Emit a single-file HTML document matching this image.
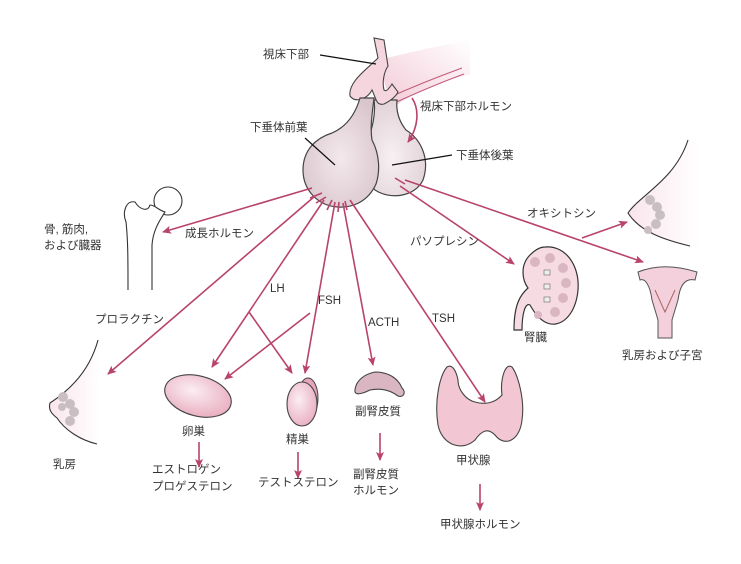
<!DOCTYPE html>
<html><head><meta charset="utf-8"><style>
html,body{margin:0;padding:0;background:#fff;}
svg{display:block;}
text{font-family:"Liberation Sans","Noto Sans CJK JP",sans-serif;font-size:11.5px;fill:#333;}
</style></head><body>
<svg width="741" height="564" viewBox="0 0 741 564" xmlns="http://www.w3.org/2000/svg">
<defs>
<marker id="a" markerWidth="10" markerHeight="10" refX="8" refY="5" orient="auto" markerUnits="userSpaceOnUse"><path d="M0,1 L9,5 L0,9 L2,5 z" fill="#b8436d"/></marker>
<radialGradient id="g1" cx="0.5" cy="0.55" r="0.6"><stop offset="0" stop-color="#f3e8ec"/><stop offset="1" stop-color="#d9c6cd"/></radialGradient>
<radialGradient id="g3" cx="0.45" cy="0.6" r="0.6"><stop offset="0" stop-color="#f7f0f2"/><stop offset="1" stop-color="#e2d3d8"/></radialGradient>
<radialGradient id="g2" cx="0.4" cy="0.4" r="0.7"><stop offset="0" stop-color="#fbeef2"/><stop offset="1" stop-color="#e8a9bd"/></radialGradient>
<linearGradient id="hb" x1="0" y1="1" x2="1" y2="0"><stop offset="0" stop-color="#f2c8d5"/><stop offset="1" stop-color="#fff"/></linearGradient>
<linearGradient id="br" x1="0" y1="0" x2="1" y2="0"><stop offset="0" stop-color="#fae5ec"/><stop offset="1" stop-color="#fff"/></linearGradient>
</defs>

<!-- hypothalamus band -->
<path d="M378,60 C400,55 440,45 470,40 L470,75 C440,80 410,95 392,108 Z" fill="url(#hb)"/>
<path d="M388,98 C410,88 440,76 462,68 M392,104 C414,94 442,82 464,74" fill="none" stroke="#c05a78" stroke-width="1"/>
<!-- posterior lobe (behind) -->
<path d="M374,100 C376,115 372,128 368,140 C362,155 364,178 375,190 C390,200 415,197 423,180 C430,160 422,140 406,130 C398,120 396,110 397,100 Z" fill="url(#g3)" stroke="#444" stroke-width="1.2"/>
<!-- fold -->
<path d="M374,38 L378,58 C366,70 348,82 350,96 C356,104 368,98 372,90 C376,98 376,106 384,104 C392,100 396,96 398,92 L392,84 C388,90 386,92 384,90 C382,82 384,72 388,66 L384,40 Z" fill="#f5d6df" stroke="#444" stroke-width="1.1"/>
<!-- anterior lobe -->
<path d="M374,98 C372,115 370,128 372,140 C380,155 380,172 376,184 C368,202 352,208 338,207 C318,206 303,190 303,170 C303,150 316,138 332,133 C348,126 356,112 360,98 Z" fill="url(#g1)" stroke="#444" stroke-width="1.2"/>

<!-- leader lines -->
<g stroke="#111" stroke-width="1.2">
<line x1="320" y1="55" x2="376" y2="64"/>
<line x1="305" y1="138" x2="335" y2="165"/>
<line x1="452" y1="155" x2="392" y2="165"/>
</g>

<!-- arrows -->
<g stroke="#b8436d" stroke-width="1.6" fill="none" marker-end="url(#a)">
<path d="M412,98 C420,110 418,128 408,142"/>
<line x1="312" y1="188" x2="163" y2="232"/>
<line x1="315" y1="196" x2="108" y2="374"/>
<line x1="324" y1="200" x2="212" y2="367"/>
<line x1="249" y1="312" x2="292" y2="373"/>
<line x1="335" y1="202" x2="305" y2="373"/>
<line x1="310" y1="313" x2="225" y2="379"/>
<line x1="343" y1="203" x2="373" y2="365"/>
<line x1="350" y1="200" x2="485" y2="402"/>
<line x1="400" y1="186" x2="514" y2="264"/>
<line x1="405" y1="180" x2="643" y2="262"/>
<line x1="582" y1="238" x2="627" y2="222"/>
<line x1="199" y1="442" x2="199" y2="467"/>
<line x1="298" y1="452" x2="298" y2="478"/>
<line x1="380" y1="433" x2="380" y2="460"/>
<line x1="480" y1="484" x2="480" y2="510"/>
</g>
<g stroke="#b8436d" stroke-width="1.6">
<line x1="310" y1="198" x2="322" y2="193"/><line x1="316" y1="203" x2="326" y2="197"/>
<line x1="327" y1="210" x2="332" y2="200"/><line x1="338" y1="212" x2="339" y2="202"/>
<line x1="347" y1="210" x2="345" y2="201"/><line x1="395" y1="178" x2="405" y2="184"/>
</g>

<!-- femur -->
<circle cx="168" cy="201" r="14" fill="#fff" stroke="#333" stroke-width="1.1"/>
<path d="M152,290 L152,245 C153,230 160,220 165,212 C158,210 155,205 150,205 C148,212 140,210 135,202 C126,200 122,212 126,222 C128,240 128,260 128,290" fill="#fff" stroke="#333" stroke-width="1.1"/>

<!-- left breast -->
<path d="M98,340 C90,370 70,390 50,403 C48,410 52,414 57,418 C65,430 80,440 97,444 L100,440 L100,340 Z" fill="url(#br)"/>
<path d="M98,340 C90,370 70,390 50,403 C48,410 52,414 57,418 C65,430 80,440 97,444" fill="none" stroke="#333" stroke-width="1.1"/>
<g fill="#c9bfc3"><circle cx="63" cy="397" r="5"/><circle cx="70" cy="404" r="5"/><circle cx="74" cy="412" r="5"/><circle cx="70" cy="421" r="5"/><circle cx="62" cy="407" r="4"/></g>

<!-- right breast -->
<path d="M688,140 C675,180 640,195 628,213 C640,232 665,240 690,246 L700,246 L700,140 Z" fill="url(#br)"/>
<path d="M688,140 C675,180 640,195 628,213 C640,232 665,240 690,246" fill="none" stroke="#333" stroke-width="1.1"/>
<g fill="#c9bfc3"><circle cx="650" cy="200" r="5"/><circle cx="657" cy="207" r="5"/><circle cx="660" cy="215" r="5"/><circle cx="656" cy="224" r="5"/><circle cx="648" cy="230" r="4"/></g>

<!-- uterus -->
<path d="M638,272 C655,265 675,265 697,272 L695,280 C685,278 680,285 678,300 L672,320 L672,338 L658,338 L658,320 L652,300 C650,285 645,278 640,280 Z" fill="#f3d0db" stroke="#555" stroke-width="1"/>
<path d="M655,290 L665,312 L675,290" fill="none" stroke="#a66" stroke-width="1"/>

<!-- kidney -->
<path d="M545,247 C565,245 580,265 578,290 C576,315 560,330 545,322 C538,318 534,312 530,305 C525,302 522,315 522,330 L514,330 C514,305 520,295 528,288 C522,280 520,265 530,255 C535,250 540,247 545,247 Z" fill="#f7dbe3" stroke="#333" stroke-width="1.2"/>
<g fill="#d9b6c2"><circle cx="535" cy="262" r="5"/><circle cx="550" cy="258" r="5"/><circle cx="563" cy="268" r="5"/><circle cx="566" cy="283" r="5"/><circle cx="563" cy="298" r="5"/><circle cx="555" cy="312" r="5"/><circle cx="538" cy="315" r="4"/></g>
<g fill="#eee" stroke="#666" stroke-width="0.6"><rect x="544" y="270" width="6" height="5"/><rect x="544" y="284" width="6" height="5"/><rect x="544" y="297" width="6" height="5"/></g>

<!-- ovary -->
<ellipse cx="198" cy="396" rx="34" ry="20" transform="rotate(15 198 396)" fill="url(#g2)" stroke="#444" stroke-width="1.1"/>
<!-- testis -->
<ellipse cx="308" cy="398" rx="10" ry="20" fill="#e8a5ba" stroke="#444" stroke-width="1"/>
<ellipse cx="302" cy="404" rx="15" ry="22" fill="url(#g2)" stroke="#444" stroke-width="1.1"/>
<!-- adrenal -->
<path d="M355,390 C356,380 365,374 375,372 C388,372 398,378 402,388 C406,392 404,398 398,396 C390,390 380,388 370,390 C362,394 354,396 355,390 Z" fill="#d9b6c2" stroke="#444" stroke-width="1.1"/>
<!-- thyroid -->
<path d="M447,367 C440,375 434,400 438,425 C442,445 462,452 475,440 C482,430 488,428 495,435 C505,448 520,440 522,420 C525,400 518,375 512,367 C505,362 500,380 502,395 C495,403 485,405 475,402 C466,400 458,390 458,380 C456,370 452,364 447,367 Z" fill="#f2c6d3" stroke="#444" stroke-width="1.1"/>

<!-- labels -->
<text x="263" y="58">視床下部</text>
<text x="420" y="110">視床下部ホルモン</text>
<text x="250" y="131">下垂体前葉</text>
<text x="456" y="159">下垂体後葉</text>
<text x="44" y="233">骨, 筋肉,</text>
<text x="44" y="249">および臓器</text>
<text x="185" y="237">成長ホルモン</text>
<text x="95" y="323">プロラクチン</text>
<text x="270" y="292">LH</text>
<text x="318" y="304">FSH</text>
<text x="368" y="326">ACTH</text>
<text x="432" y="322">TSH</text>
<text x="410" y="245">パソプレシン</text>
<text x="527" y="217">オキシトシン</text>
<text x="524" y="341">腎臓</text>
<text x="622" y="359">乳房および子宮</text>
<text x="53" y="468">乳房</text>
<text x="182" y="435">卵巣</text>
<text x="152" y="473">エストロゲン</text>
<text x="152" y="490">プロゲステロン</text>
<text x="286" y="443">精巣</text>
<text x="258" y="486">テストステロン</text>
<text x="355" y="415">副腎皮質</text>
<text x="353" y="478">副腎皮質</text>
<text x="353" y="494">ホルモン</text>
<text x="456" y="464">甲状腺</text>
<text x="440" y="528">甲状腺ホルモン</text>
</svg>
</body></html>
